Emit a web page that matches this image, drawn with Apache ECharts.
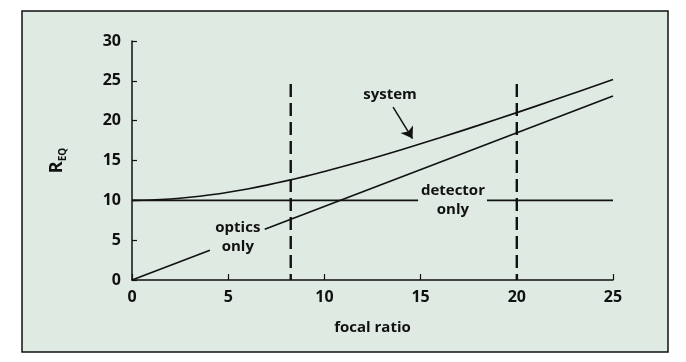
<!DOCTYPE html>
<html>
<head>
<meta charset="utf-8">
<script src="https://cdn.jsdelivr.net/npm/echarts@6/dist/echarts.min.js"></script>
<style>
html,body{margin:0;padding:0;background:#fff;}
#c{width:686px;height:362px;}
</style>
</head>
<body>
<div id="c"></div>
<script>
// ---- data ----
const xTickValues = [0, 5, 10, 15, 20, 25];
const yTickValues = [0, 5, 10, 15, 20, 25, 30];
const systemFocal = [0, 1, 2, 3, 4, 5, 6, 7, 8, 9, 10, 12, 14, 16, 18, 20, 22, 25];
const systemR     = [10, 10.04, 10.17, 10.38, 10.66, 11.02, 11.43, 11.91, 12.44, 13.01, 13.62, 14.93, 16.35, 17.85, 19.41, 21.01, 22.65, 25.17];
const opticsSeg1 = [[0, 0], [4.05, 3.74]];
const opticsSeg2 = [[6.9, 6.38], [25, 23.1]];
const detectorSeg1 = [[0, 10], [14.87, 10]];
const detectorSeg2 = [[18.45, 10], [25, 10]];
const limitFocalRatios = [8.25, 20];
const limitTop = 24.6;
const labelTexts = ['system', 'optics\nonly', 'detector\nonly'];
const labelPositions = [[13.41, 23.2], [5.5, 5.4], [16.68, 10.0]];
const arrowFrom = [13.57, 21.71];
const arrowTo = [14.58, 17.75];

const FONT = '"Open Sans", "Noto Sans", sans-serif';
const chart = echarts.init(document.getElementById('c'), null, {renderer: 'canvas'});

const lineStyle = {color: '#111', width: 1.6};
const plain = (data, extra) => Object.assign({
  type: 'line', data: data, symbol: 'none', silent: true,
  lineStyle: lineStyle, animation: false, z: 3
}, extra || {});

const series = [
  plain(systemFocal.map((x, i) => [x, systemR[i]]), {
    smooth: 0.3,
    markLine: {
      silent: true, animation: false,
      symbol: ['none', 'arrow'], symbolSize: 11,
      lineStyle: {color: '#111', width: 1.5, type: 'solid'},
      label: {show: false},
      data: [[{coord: arrowFrom}, {coord: arrowTo}]]
    }
  }),
  plain(opticsSeg1), plain(opticsSeg2),
  plain(detectorSeg1), plain(detectorSeg2)
];
limitFocalRatios.forEach(f => {
  series.push(plain([[f, limitTop], [f, 0]], {
    lineStyle: {color: '#111', width: 2.4, type: [13, 6]}
  }));
});

const option = {
  backgroundColor: '#ffffff',
  animation: false,
  grid: {left: 132, right: 73, top: 41, bottom: 82},
  xAxis: {
    type: 'value', min: 0, max: 25, interval: 5,
    name: 'focal ratio', nameLocation: 'middle', nameGap: 40,
    nameTextStyle: {fontFamily: FONT, fontWeight: 'bold', fontSize: 15, color: '#111'},
    axisLine: {lineStyle: {color: '#111', width: 1.5}},
    axisTick: {inside: true, length: 6, lineStyle: {color: '#111', width: 1.2}},
    axisLabel: {fontFamily: FONT, fontWeight: 'bold', fontSize: 16, color: '#111', margin: 9},
    splitLine: {show: false}
  },
  yAxis: {
    type: 'value', min: 0, max: 30, interval: 5,
    name: '{r|R}{s|EQ}', nameLocation: 'middle', nameGap: 64, nameRotate: 90,
    nameTextStyle: {
      color: '#111',
      rich: {
        r: {fontFamily: FONT, fontWeight: 'bold', fontSize: 18, lineHeight: 22, verticalAlign: 'middle', color: '#111'},
        s: {fontFamily: FONT, fontWeight: 'bold', fontSize: 10, lineHeight: 10, verticalAlign: 'bottom', color: '#111'}
      }
    },
    axisLine: {show: true, lineStyle: {color: '#111', width: 1.5}},
    axisTick: {show: true, inside: true, length: 5, lineStyle: {color: '#111', width: 1.2}},
    axisLabel: {fontFamily: FONT, fontWeight: 'bold', fontSize: 16, color: '#111', margin: 11},
    splitLine: {show: false}
  },
  graphic: [{
    type: 'rect', z: -100, silent: true,
    shape: {x: 22, y: 11, width: 646, height: 341},
    style: {fill: '#dfeae3', stroke: '#111', lineWidth: 1.5}
  }],
  series: series
};
chart.setOption(option);

const labelGraphics = labelTexts.map((t, i) => {
  const p = chart.convertToPixel({gridIndex: 0}, labelPositions[i]);
  return {
    type: 'text', x: p[0], y: p[1], z: 10, silent: true,
    style: {
      text: t, fill: '#111', font: 'bold 15px ' + FONT,
      align: 'center', verticalAlign: 'middle', lineHeight: 19
    }
  };
});
chart.setOption({graphic: option.graphic.concat(labelGraphics)});
</script>
</body>
</html>
